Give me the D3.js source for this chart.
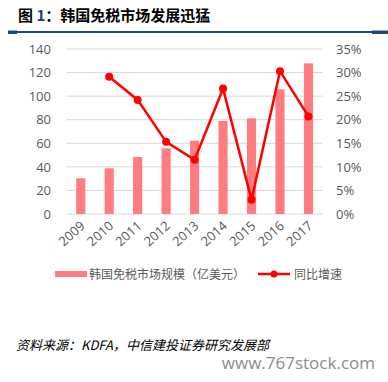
<!DOCTYPE html>
<html><head><meta charset="utf-8">
<script src="https://cdn.jsdelivr.net/npm/d3@7"></script>
<style>body{margin:0;background:#fff}svg{display:block}</style>
</head><body>
<script>
const years = ["2009","2010","2011","2012","2013","2014","2015","2016","2017"];
const marketSize = [30.3, 38.8, 48.4, 55.7, 62.2, 78.9, 81.2, 105.8, 127.8];
const growth = [null, 29.1, 24.2, 15.3, 11.5, 26.6, 3.0, 30.3, 20.7];
const leftTicks = [0,20,40,60,80,100,120,140];
const rightTicks = [0,5,10,15,20,25,30,35];

const W=388,H=382;
const svg=d3.select("body").append("svg").attr("width",W).attr("height",H);
const font="'Open Sans','Noto Sans CJK SC',sans-serif";
const cjk="'Noto Sans CJK SC',sans-serif";

// title
const t=svg.append("text").attr("x",18).attr("y",21).attr("font-family",cjk)
  .attr("font-size",15).attr("font-weight",700).attr("fill","#000");
t.append("tspan").text("图 ");
t.append("tspan").attr("fill","#1f3d7a").text("1");
t.append("tspan").text("：韩国免税市场发展迅猛");
svg.append("rect").attr("x",8).attr("y",31).attr("width",380).attr("height",2).attr("fill","#1f497d");
svg.append("rect").attr("x",8).attr("y",30.5).attr("width",9).attr("height",3.5).attr("fill","#1f497d");
svg.append("rect").attr("x",372).attr("y",30.5).attr("width",16).attr("height",3.5).attr("fill","#1f497d");

const x=d3.scaleBand().domain(years).range([66.5,322.7]).paddingInner(0.68).paddingOuter(0.34);
const y=d3.scaleLinear().domain([0,140]).range([214,49]);
const y2=d3.scaleLinear().domain([0,35]).range([214,49]);

// grid
svg.append("g").selectAll("line").data(leftTicks).join("line")
  .attr("x1",66.5).attr("x2",322.7).attr("y1",d=>y(d)).attr("y2",d=>y(d))
  .attr("stroke","#d9d9d9").attr("stroke-width",1);

// left axis
const la=svg.append("g").attr("transform","translate(51,0)")
  .call(d3.axisLeft(y).tickValues(leftTicks).tickSize(0).tickPadding(0));
la.select(".domain").remove();
la.selectAll("text").attr("font-family",font).attr("font-size",13).attr("fill","#595959");

// right axis
const ra=svg.append("g").attr("transform","translate(336,0)")
  .call(d3.axisRight(y2).tickValues(rightTicks).tickSize(0).tickPadding(0).tickFormat(d=>d+"%"));
ra.select(".domain").remove();
ra.selectAll("text").attr("font-family",font).attr("font-size",13).attr("fill","#595959");

// bars
svg.append("g").selectAll("rect").data(years).join("rect")
  .attr("x",d=>x(d)).attr("width",x.bandwidth())
  .attr("y",(d,i)=>y(marketSize[i])).attr("height",(d,i)=>y(0)-y(marketSize[i]))
  .attr("fill","#ff7c80");

// x axis labels
const xa=svg.append("g").attr("transform","translate(0,214)")
  .call(d3.axisBottom(x).tickSize(0).tickPadding(0));
xa.select(".domain").remove();
xa.selectAll("text").attr("font-family",font).attr("font-size",13).attr("fill","#595959")
  .attr("text-anchor","end").attr("dy",0)
  .attr("transform","translate(5,13) rotate(-42)");

// line
const pts=years.map((d,i)=>({d,v:growth[i]})).filter(p=>p.v!=null);
const line=d3.line().x(p=>x(p.d)+x.bandwidth()/2).y(p=>y2(p.v));
svg.append("path").datum(pts).attr("d",line).attr("fill","none")
  .attr("stroke","#ff0000").attr("stroke-width",2.5);
svg.append("g").selectAll("circle").data(pts).join("circle")
  .attr("cx",p=>x(p.d)+x.bandwidth()/2).attr("cy",p=>y2(p.v)).attr("r",4)
  .attr("fill","#ff0000");

// legend
svg.append("rect").attr("x",55).attr("y",271).attr("width",32).attr("height",6).attr("fill","#ff7c80");
svg.append("text").attr("x",89).attr("y",278.5).attr("font-family",cjk).attr("font-size",12)
  .attr("fill","#595959").text("韩国免税市场规模（亿美元）");
svg.append("line").attr("x1",258).attr("x2",290).attr("y1",274).attr("y2",274)
  .attr("stroke","#ff0000").attr("stroke-width",2.5);
svg.append("circle").attr("cx",274).attr("cy",274).attr("r",3.5).attr("fill","#ff0000");
svg.append("text").attr("x",294).attr("y",278.5).attr("font-family",cjk).attr("font-size",12)
  .attr("fill","#595959").text("同比增速");

// source
svg.append("text").attr("x",16).attr("y",350).attr("font-family",cjk).attr("font-size",13)
  .attr("font-style","italic").attr("fill","#000").text("资料来源：KDFA，中信建投证券研究发展部");
svg.append("text").attr("x",375).attr("y",369).attr("text-anchor","end").attr("font-family",font)
  .attr("font-size",17).attr("fill","#8c8c8c").text("www.767stock.com");
</script>
</body></html>
